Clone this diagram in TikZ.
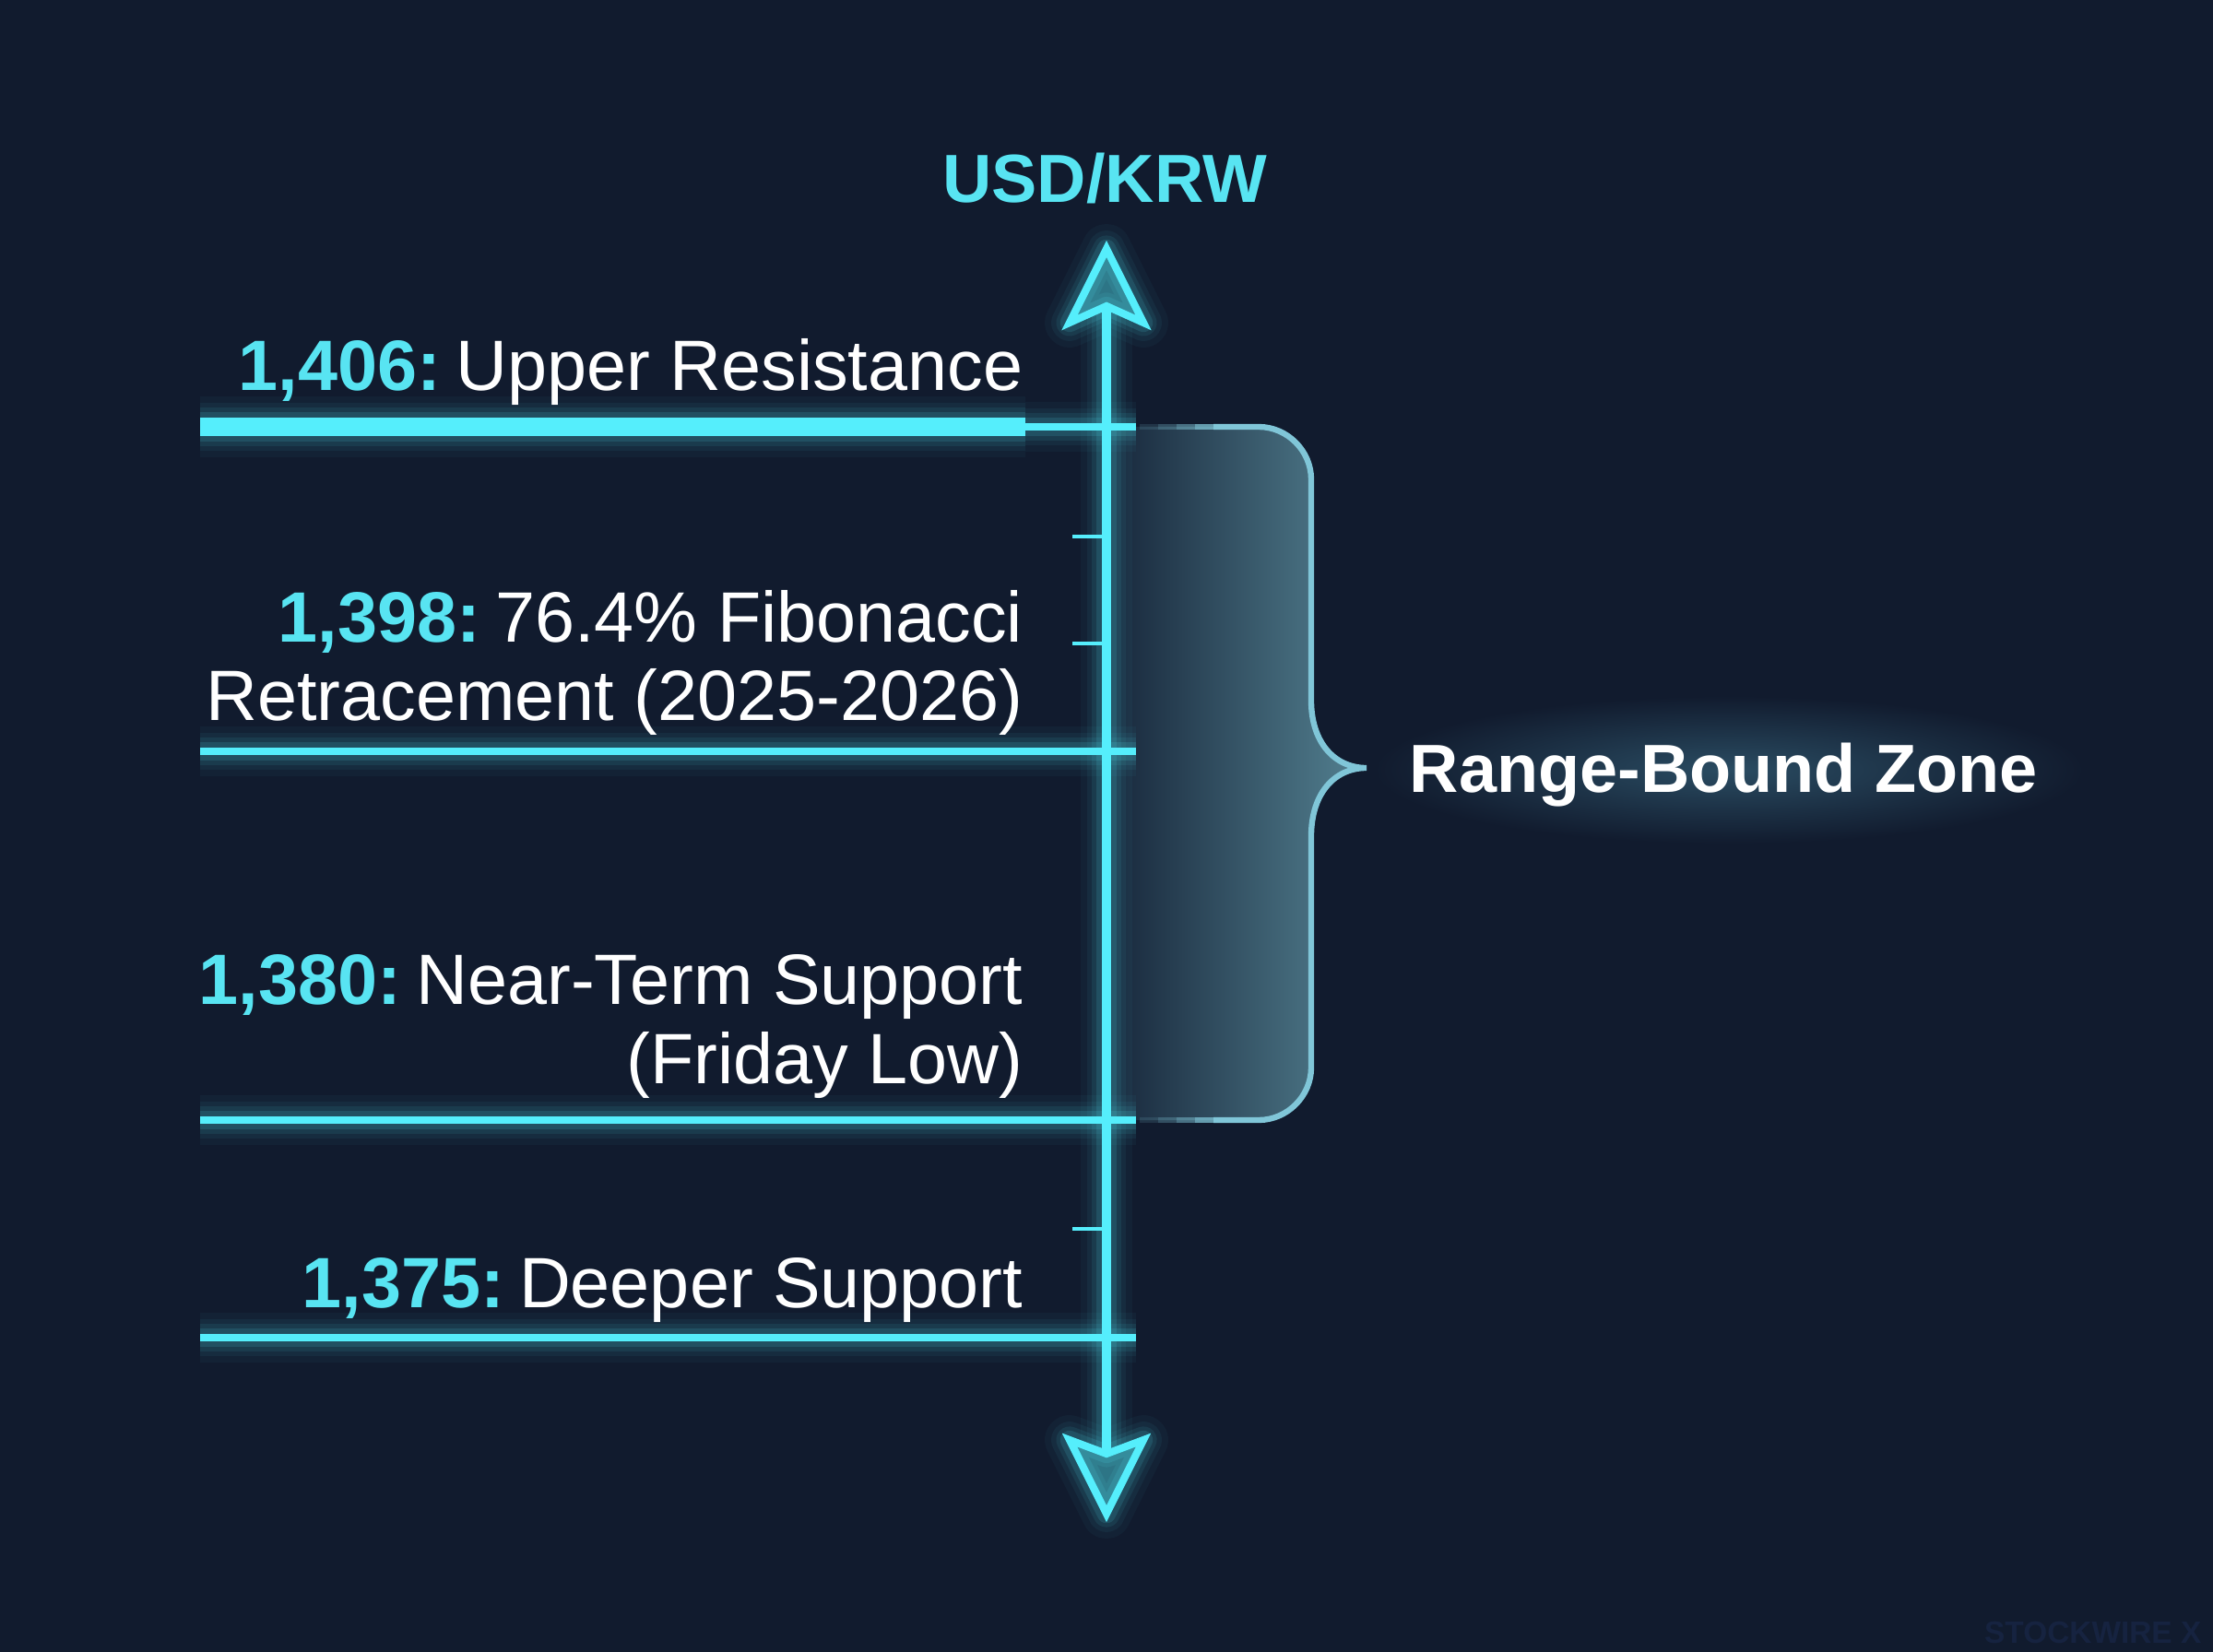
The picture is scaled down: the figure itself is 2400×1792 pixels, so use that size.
\documentclass[tikz,border=0pt]{standalone}
\usepackage{fontspec}
\setmainfont{Liberation Sans}
\definecolor{bg}{RGB}{17,27,46}
\definecolor{cy}{RGB}{85,238,252}
\definecolor{lab}{RGB}{88,228,242}
\definecolor{zoneR}{RGB}{84,130,146}
\definecolor{zoneL}{RGB}{24,40,60}
\definecolor{bracec}{RGB}{128,198,216}
\definecolor{wm}{RGB}{22,35,64}
\definecolor{tglow}{RGB}{42,76,98}
\newcommand{\glowit}[2]{\foreach \gw/\go in {13/0.035,9/0.05,6/0.08,3.5/0.12}{\draw[cy, opacity=\go, line width=\gw pt+#1, line join=round] #2;}}
\newcommand{\numlab}[1]{{\color{lab}\bfseries #1}\hspace{0.21em}}
\begin{document}
\begin{tikzpicture}[x=0.01cm,y=-0.01cm,
  lvl/.style={draw=cy, line width=2.3pt},
  lvlthick/.style={draw=cy, line width=5.7pt},
  axisln/.style={draw=cy, line width=2.85pt},
  tickln/.style={draw=cy, line width=1.4pt},
  arrowhd/.style={draw=cy, line width=2.3pt, fill=cy, fill opacity=0.38, line join=miter},
  bracel/.style={draw=bracec, line width=1.8pt},
  lbl/.style={text=white, inner sep=0pt, anchor=base east, font=\fontsize{22}{26}\selectfont},
]
% background
\fill[bg] (0,0) rectangle (2400,1792);
\useasboundingbox (0,0) rectangle (2400,1792);

% named points
\coordinate (axT) at (1200,336);
\coordinate (axB) at (1200,1574);
\coordinate (L1a) at (217,463);
\coordinate (L1m) at (1112,463);
\coordinate (L1b) at (1232,463);
\coordinate (L2a) at (217,815);
\coordinate (L2b) at (1232,815);
\coordinate (L3a) at (217,1215);
\coordinate (L3b) at (1232,1215);
\coordinate (L4a) at (217,1451);
\coordinate (L4b) at (1232,1451);
\coordinate (T1a) at (1163,582);  \coordinate (T1b) at (1200,582);
\coordinate (T2a) at (1163,698);  \coordinate (T2b) at (1200,698);
\coordinate (T3a) at (1163,1333); \coordinate (T3b) at (1200,1333);

% zone fill
\shade[left color=zoneL, right color=zoneR]
  (1206,463) -- (1365,463) .. controls (1396,463) and (1422,489) .. (1422,520)
  -- (1422,760) .. controls (1422,805) and (1447,833) .. (1482,833)
  .. controls (1447,833) and (1422,861) .. (1422,907)
  -- (1422,1158) .. controls (1422,1189) and (1396,1215) .. (1365,1215)
  -- (1206,1215) -- cycle;
% zone outline (brace)
\foreach \xa/\xb/\op in {1236/1256/0.15,1256/1276/0.3,1276/1296/0.5,1296/1316/0.75}{
  \draw[bracel, opacity=\op] (\xa,463) -- (\xb,463);
  \draw[bracel, opacity=\op] (\xa,1215) -- (\xb,1215);
}
\draw[bracel, line cap=butt] (1316,463) -- (1365,463) .. controls (1396,463) and (1422,489) .. (1422,520)
  -- (1422,760) .. controls (1422,805) and (1447,833) .. (1482,833)
  .. controls (1447,833) and (1422,861) .. (1422,907)
  -- (1422,1158) .. controls (1422,1189) and (1396,1215) .. (1365,1215) -- (1316,1215);

% text glow for zone label
\shade[inner color=tglow, outer color=bg] (1490,755) rectangle (2260,915);

% glows
\glowit{5.7pt}{(L1a) -- (L1m)}
\glowit{2.3pt}{(L1m) -- (L1b)}
\glowit{2.3pt}{(L2a) -- (L2b)}
\glowit{2.3pt}{(L3a) -- (L3b)}
\glowit{2.3pt}{(L4a) -- (L4b)}
\glowit{2.85pt}{(axT) -- (axB)}
\glowit{2.3pt}{(1200,270) -- (1240,350) -- (1200,332) -- (1160,350) -- cycle}
\glowit{2.3pt}{(1200,1642) -- (1240,1562) -- (1200,1577) -- (1160,1562) -- cycle}

% level lines
\draw[lvlthick] (L1a) -- (L1m);
\draw[lvl] (L1m) -- (L1b);
\draw[lvl] (L2a) -- (L2b);
\draw[lvl] (L3a) -- (L3b);
\draw[lvl] (L4a) -- (L4b);
% ticks
\draw[tickln] (T1a) -- (T1b);
\draw[tickln] (T2a) -- (T2b);
\draw[tickln] (T3a) -- (T3b);
% axis
\draw[axisln] (axT) -- (axB);
\draw[arrowhd] (1200,270) -- (1240,350) -- (1200,332) -- (1160,350) -- cycle;
\draw[arrowhd] (1200,1642) -- (1240,1562) -- (1200,1577) -- (1160,1562) -- cycle;

% title
\node[text=lab, inner sep=0pt, anchor=base, font=\fontsize{21}{25}\selectfont\bfseries] (title) at (1198,220) {USD/KRW};

% labels
\node[lbl] (t1) at (1110,424) {\numlab{1,406:}Upper Resistance};
\node[lbl] (t2a) at (1110,697) {\numlab{1,398:}76.4\% Fibonacci};
\node[lbl] (t2b) at (1110,782) {Retracement (2025-2026)};
\node[lbl] (t3a) at (1110,1090) {\numlab{1,380:}Near-Term Support};
\node[lbl] (t3b) at (1110,1175) {(Friday Low)};
\node[lbl] (t4) at (1110,1418) {\numlab{1,375:}Deeper Support};

% zone label
\node[text=white, inner sep=0pt, anchor=base west, font=\fontsize{21}{25}\selectfont\bfseries] (zone) at (1528,860) {Range-Bound Zone};

% watermark
\node[text=wm, inner sep=0pt, anchor=base east, font=\fontsize{9.5}{11}\selectfont\bfseries] (wmk) at (2388,1782) {STOCKWIRE X};
\end{tikzpicture}
\end{document}
